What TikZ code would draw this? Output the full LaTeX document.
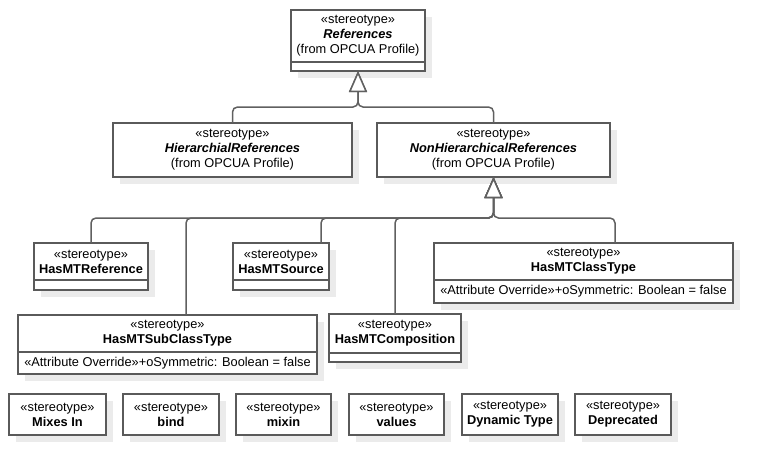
\documentclass[tikz,border=0pt]{standalone}
\usepackage{fontspec}
\setmainfont{Liberation Sans}
\usetikzlibrary{arrows.meta,shadows}
\definecolor{bordc}{HTML}{5A5A5A}
\definecolor{linec}{HTML}{606060}
\definecolor{shadc}{HTML}{EBEBEB}
\begin{document}
\begin{tikzpicture}[x=1pt,y=-1pt,
  umlbox/.style={draw=bordc,line width=1.5pt,fill=white,inner sep=0pt,outer sep=0pt,anchor=north west,
    general shadow={fill=shadc,shadow xshift=7pt,shadow yshift=-7pt}},
  txt/.style={align=center,font=\fontsize{12.8pt}{15pt}\selectfont,inner sep=0pt},
  comp/.style={draw=bordc,line width=1.5pt},
  gen/.style={draw=linec,line width=1.5pt,rounded corners=5pt,
    -{Triangle[open,width=18pt,length=21pt,fill=white]}}]
\useasboundingbox (0,0) rectangle (772,475);

% top
\node[umlbox,minimum width=134pt,minimum height=61pt] (ref) at (291,10) {};
\draw[comp] (291,62) -- (425,62);
\node[txt] (refT) at (358,36) {«stereotype»\\\textbf{\textit{References}}\\(from OPCUA Profile)};

\node[umlbox,minimum width=239pt,minimum height=54pt] (hier) at (113,123) {};
\node[txt] (hierT) at (232.5,150) {«stereotype»\\\textbf{\textit{HierarchialReferences}}\\(from OPCUA Profile)};

\node[umlbox,minimum width=233pt,minimum height=54pt] (nonh) at (377,123) {};
\node[txt] (nonhT) at (493.5,150) {«stereotype»\\\textbf{\textit{NonHierarchicalReferences}}\\(from OPCUA Profile)};

% third row
\node[umlbox,minimum width=114pt,minimum height=47pt] (hmtr) at (34,243) {};
\draw[comp] (34,280) -- (148,280);
\node[txt] (hmtrT) at (91,261.5) {«stereotype»\\\textbf{HasMTReference}};

\node[umlbox,minimum width=96pt,minimum height=47pt] (hmts) at (233,243) {};
\draw[comp] (233,280) -- (329,280);
\node[txt] (hmtsT) at (281,261.5) {«stereotype»\\\textbf{HasMTSource}};

\node[umlbox,minimum width=299pt,minimum height=60pt] (hmtc) at (434,243) {};
\draw[comp] (434,280) -- (733,280);
\node[txt] (hmtcT) at (583.5,261.5) {«stereotype»\\\textbf{HasMTClassType}};
\node[txt] (hmtcA) at (583.5,291.5) {«Attribute Override»+oSymmetric: Boolean = false};

\node[umlbox,minimum width=299pt,minimum height=59pt] (hmtsub) at (18,315) {};
\draw[comp] (18,352) -- (317,352);
\node[txt] (hmtsubT) at (167.5,333.5) {«stereotype»\\\textbf{HasMTSubClassType}};
\node[txt] (hmtsubA) at (167.5,363) {«Attribute Override»+oSymmetric: Boolean = false};

\node[umlbox,minimum width=132pt,minimum height=48pt] (hmtcomp) at (329,314) {};
\draw[comp] (329,353) -- (461,353);
\node[txt] (hmtcompT) at (395,333.5) {«stereotype»\\\textbf{HasMTComposition}};

% bottom row
\node[umlbox,minimum width=97pt,minimum height=41pt] (b1) at (9,394) {};
\node[txt] (b1T) at (57.5,414.5) {«stereotype»\\\textbf{Mixes In}};
\node[umlbox,minimum width=96pt,minimum height=41pt] (b2) at (123,394) {};
\node[txt] (b2T) at (171,414.5) {«stereotype»\\\textbf{bind}};
\node[umlbox,minimum width=95pt,minimum height=41pt] (b3) at (236,394) {};
\node[txt] (b3T) at (283.5,414.5) {«stereotype»\\\textbf{mixin}};
\node[umlbox,minimum width=95pt,minimum height=41pt] (b4) at (349,394) {};
\node[txt] (b4T) at (396.5,414.5) {«stereotype»\\\textbf{values}};
\node[umlbox,minimum width=96pt,minimum height=41pt] (b5) at (462,394) {};
\node[txt] (b5T) at (510,414.5) {«stereotype»\\\textbf{Dynamic Type}};
\node[umlbox,minimum width=96pt,minimum height=41pt] (b6) at (575,394) {};
\node[txt] (b6T) at (623,414.5) {«stereotype»\\\textbf{Deprecated}};

% generalizations
\coordinate (j1) at (358,107);
\draw[gen] (hier.north) |- (j1) -- (ref.south);
\draw[gen] (nonh.north) |- (j1) -- (ref.south);

\coordinate (j2) at (493.5,218);
\draw[gen] (hmtr.north) |- (j2) -- (nonh.south);
\draw[gen] ([xshift=18.5pt]hmtsub.north) |- (j2) -- (nonh.south);
\draw[gen] ([xshift=40pt]hmts.north) |- (j2) -- (nonh.south);
\draw[gen] (hmtcomp.north) |- (j2) -- (nonh.south);
\draw[gen] ([xshift=31.5pt]hmtc.north) |- (j2) -- (nonh.south);
\end{tikzpicture}
\end{document}
